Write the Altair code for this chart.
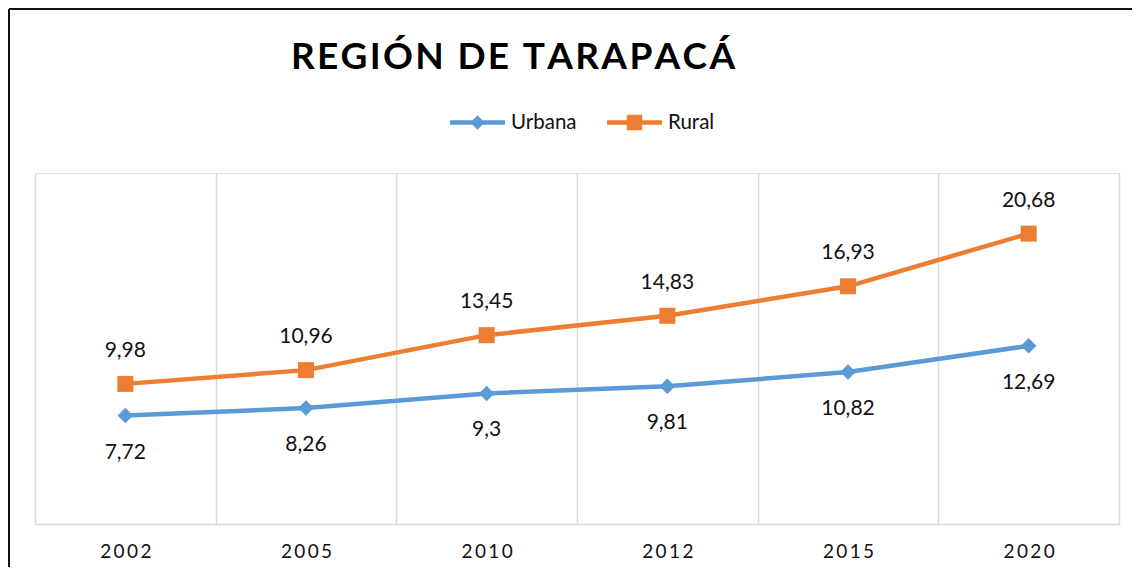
import altair as alt
import pandas as pd

years = ["2002", "2005", "2010", "2012", "2015", "2020"]
urbana = [7.72, 8.26, 9.3, 9.81, 10.82, 12.69]
rural = [9.98, 10.96, 13.45, 14.83, 16.93, 20.68]
series_names = ["Urbana", "Rural"]
series_colors = ["#5B9BD5", "#ED7D31"]
title_text = "REGIÓN DE TARAPACÁ"

rows = []
for y, v in zip(years, urbana):
    rows.append({"year": y, "series": "Urbana", "value": v})
for y, v in zip(years, rural):
    rows.append({"year": y, "series": "Rural", "value": v})
df = pd.DataFrame(rows)

W, H = 1084, 351
FONT = "Lato"

x_enc = alt.X(
    "year:N",
    sort=years,
    scale=alt.Scale(type="band", paddingInner=0, paddingOuter=0),
    axis=alt.Axis(
        title=None,
        tickBand="extent",
        ticks=False,
        grid=True,
        gridColor="#D9D9D9",
        gridWidth=1.5,
        domainColor="#D9D9D9",
        domainWidth=1.5,
        labelFont=FONT,
        labelFontSize=19,
        labelColor="#111111",
        labelPadding=18,
        labelAngle=0,
        labelExpr="join(split(datum.label, ''), '\u2009')",
    ),
)
y_enc = alt.Y("value:Q", scale=alt.Scale(domain=[0, 25], nice=False, zero=True), axis=None)
color_enc = alt.Color(
    "series:N",
    scale=alt.Scale(domain=series_names, range=series_colors),
    legend=None,
)

base = alt.Chart(df)

lines = base.mark_line(strokeWidth=4.5).encode(x=x_enc, y=y_enc, color=color_enc)

points = base.mark_point(filled=True, opacity=1, strokeWidth=0).encode(
    x=x_enc,
    y=y_enc,
    color=color_enc,
    shape=alt.Shape(
        "series:N",
        scale=alt.Scale(domain=series_names, range=["diamond", "square"]),
        legend=None,
    ),
    size=alt.Size(
        "series:N",
        scale=alt.Scale(domain=series_names, range=[240, 256]),
        legend=None,
    ),
)

labels_r = base.transform_filter(alt.datum.series == "Rural").transform_calculate(
    lab="replace(toString(datum.value), '.', ',')"
).mark_text(font=FONT, fontSize=21, color="#111111", dy=-33).encode(
    x=x_enc, y=y_enc, text="lab:N"
)
labels_u = base.transform_filter(alt.datum.series == "Urbana").transform_calculate(
    lab="replace(toString(datum.value), '.', ',')"
).mark_text(font=FONT, fontSize=21, color="#111111", dy=37).encode(
    x=x_enc, y=y_enc, text="lab:N"
)

line_part = "M-1,-0.08L1,-0.08L1,0.08L-1,0.08Z "
legend_paths = [
    line_part + "M0,-0.26L0.26,0L0,0.26L-0.26,0Z",
    line_part + "M-0.28,-0.28L0.28,-0.28L0.28,0.28L-0.28,0.28Z",
]
leg_df = pd.DataFrame({"leg": series_names, "year": ["2002", "2002"], "value": [7.72, 9.98]})
leg_props = dict(
    title=None,
    orient="none",
    direction="horizontal",
    legendX=415,
    legendY=-78,
    symbolSize=3025,
    symbolOpacity=1,
    symbolStrokeWidth=0,
    labelFont=FONT,
    labelFontSize=20.5,
    labelColor="#111111",
    labelOffset=6,
    columnPadding=30,
)
legend_layer = alt.Chart(leg_df).mark_point(filled=True, size=1, opacity=1, strokeWidth=0).encode(
    x=alt.X("year:N", sort=years),
    y=alt.Y("value:Q"),
    color=alt.Color(
        "leg:N",
        scale=alt.Scale(domain=series_names, range=series_colors),
        legend=alt.Legend(**leg_props),
    ),
    shape=alt.Shape(
        "leg:N",
        scale=alt.Scale(domain=series_names, range=legend_paths),
        legend=alt.Legend(**leg_props),
    ),
)

one = pd.DataFrame({"k": [0]})
border_left = alt.Chart(one).mark_rule(color="#111111", strokeWidth=2).encode(
    x=alt.value(-26), y=alt.value(-164), y2=alt.value(H + 44)
)
border_top = alt.Chart(one).mark_rule(color="#111111", strokeWidth=2).encode(
    x=alt.value(-26), x2=alt.value(W + 14), y=alt.value(-164)
)
title_mark = alt.Chart(one).mark_text(
    font=FONT, fontSize=37, fontWeight="bold", color="#000000",
    align="center", baseline="alphabetic",
).encode(
    x=alt.value(478),
    y=alt.value(-104),
    text=alt.value("\u200a".join(title_text)),
)

chart = (
    alt.layer(lines, points, labels_r, labels_u, legend_layer, border_left, border_top, title_mark)
    .resolve_scale(color="independent", shape="independent")
    .properties(
        width=W,
        height=H,
        autosize=alt.AutoSizeParams(type="none"),
        padding={"left": 27, "top": 165, "right": 13, "bottom": 43},
    )
    .configure_view(stroke=None)
    .configure(background="white")
)

chart.save("out.html", embed_options={"renderer": "svg", "actions": False})
